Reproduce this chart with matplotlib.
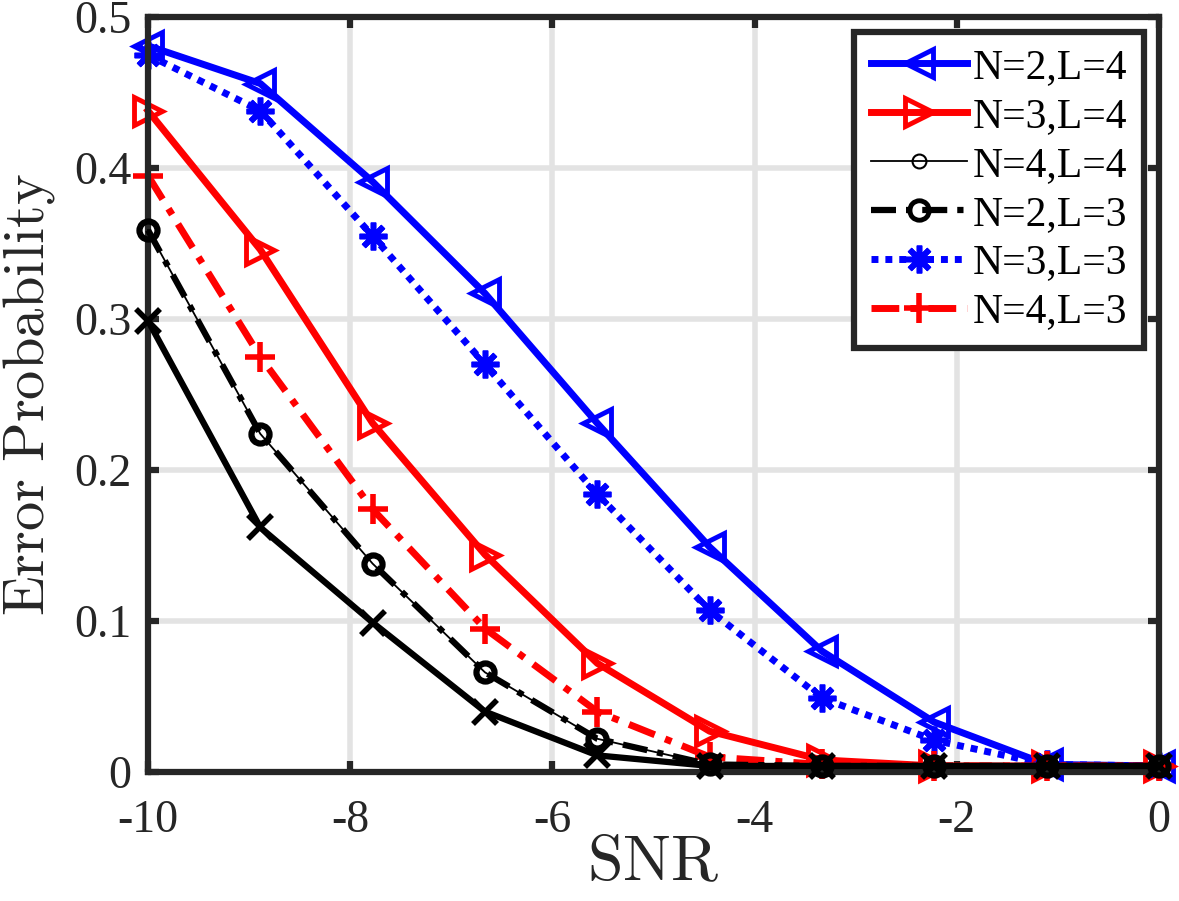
import numpy as np
import matplotlib
matplotlib.use("Agg")
import matplotlib.pyplot as plt

plt.rcParams["font.family"] = ["Liberation Serif", "DejaVu Serif"]
plt.rcParams["mathtext.fontset"] = "cm"
plt.rcParams["axes.unicode_minus"] = False

snr = np.linspace(-10, 0, 10)

pe_n2_l4 = [0.481, 0.456, 0.391, 0.317, 0.231, 0.149, 0.080, 0.033, 0.005, 0.004]
pe_n3_l4 = [0.438, 0.346, 0.231, 0.144, 0.072, 0.027, 0.008, 0.004, 0.004, 0.004]
pe_n4_l4 = [0.359, 0.224, 0.138, 0.066, 0.022, 0.005, 0.004, 0.004, 0.004, 0.004]
pe_n2_l3 = [0.359, 0.224, 0.138, 0.066, 0.022, 0.005, 0.004, 0.004, 0.004, 0.004]
pe_n3_l3 = [0.475, 0.438, 0.355, 0.270, 0.184, 0.107, 0.049, 0.021, 0.005, 0.004]
pe_n4_l3 = [0.395, 0.275, 0.174, 0.095, 0.040, 0.010, 0.005, 0.004, 0.004, 0.004]
pe_extra = [0.299, 0.162, 0.099, 0.040, 0.011, 0.004, 0.004, 0.004, 0.004, 0.004]

labels = ["N=2,L=4", "N=3,L=4", "N=4,L=4", "N=2,L=3", "N=3,L=3", "N=4,L=3"]

DARK = "#262626"

fig = plt.figure(figsize=(11.79, 9.01), dpi=100)
ax = fig.add_axes([0.1255, 0.1432, 0.8575, 0.8378])

common = dict(clip_on=False, mfc="none")
ax.plot(snr, pe_n2_l4, color="#0000ff", ls="-", lw=5, marker="<", ms=20, mew=3.5,
        label=labels[0], **common)
ax.plot(snr, pe_n3_l4, color="#ff0000", ls="-", lw=5, marker=">", ms=20, mew=3.5,
        label=labels[1], **common)
ax.plot(snr, pe_n2_l3, color="black", ls=(0, (4, 1.6, 1, 1.6)), lw=4.5, marker="o", ms=14,
        mew=3.5, label=labels[3], zorder=3, **common)
ax.plot(snr, pe_n4_l4, color="black", ls="-", lw=1.3, marker="o", ms=10, mew=1.5,
        label=labels[2], zorder=3.5, **common)
ax.plot(snr, pe_n3_l3, color="#0000ff", ls=(0, (1, 1)), lw=5, marker=(8, 2, 0), ms=20, mew=4,
        label=labels[4], **common)
ax.plot(snr, pe_n4_l3, color="#ff0000", ls=(0, (4, 1.6, 1, 1.6)), lw=5, marker="+", ms=22,
        mew=4, label=labels[5], **common)
ax.plot(snr, pe_extra, color="black", ls="-", lw=4.5, marker="x", ms=17, mew=4,
        zorder=4, clip_on=False)

ax.set_xlim(-10, 0)
ax.set_ylim(0, 0.5)
ax.set_xticks([-10, -8, -6, -4, -2, 0])
ax.set_yticks([0, 0.1, 0.2, 0.3, 0.4, 0.5])
ax.set_yticklabels(["0", "0.1", "0.2", "0.3", "0.4", "0.5"])

ax.grid(True, color="#e3e3e3", lw=4)
ax.set_axisbelow(True)
for sp in ax.spines.values():
    sp.set_color(DARK)
    sp.set_linewidth(4.5)
ax.tick_params(direction="in", length=8, width=4.5, color=DARK, labelcolor=DARK,
               labelsize=33, top=True, right=True)
ax.tick_params(axis="x", pad=20)
ax.tick_params(axis="y", pad=12)

ax.set_xlabel(r"$\mathrm{SNR}$", fontsize=46, color=DARK)
ax.xaxis.set_label_coords(0.5, -0.085)
ax.set_ylabel(r"$\mathrm{Error\ Probability}$", fontsize=42, color=DARK, labelpad=12)

handles, labs = ax.get_legend_handles_labels()
order = [labs.index(l) for l in labels]
leg = ax.legend([handles[i] for i in order], [labs[i] for i in order],
                loc="upper right", fontsize=30, handlelength=2.3, handletextpad=0.15,
                labelspacing=0.25, borderpad=0.4, borderaxespad=0.35,
                fancybox=False, framealpha=1, edgecolor=DARK)
leg.get_frame().set_linewidth(4.5)

fig.savefig("out.png", dpi=100)
